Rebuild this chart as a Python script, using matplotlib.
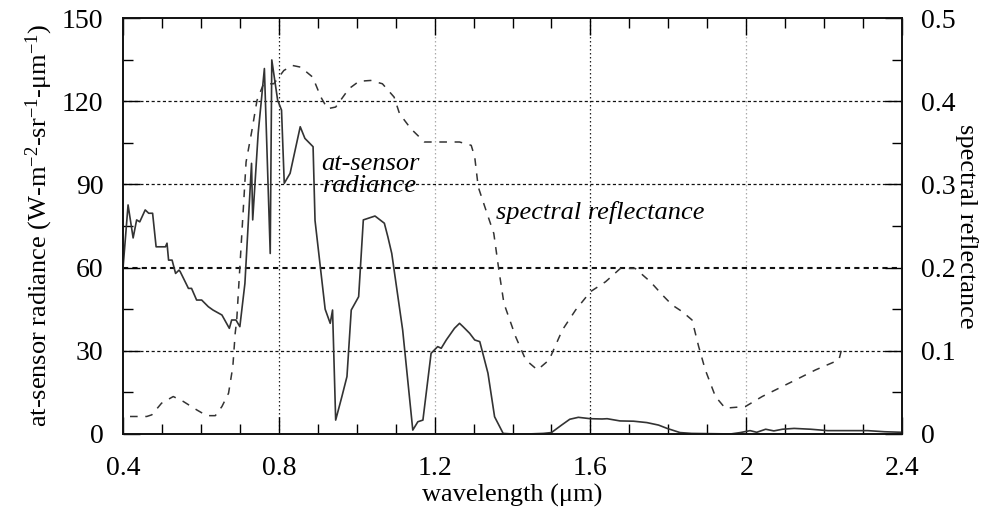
import matplotlib
matplotlib.use("Agg")
import matplotlib.pyplot as plt
from matplotlib.ticker import MultipleLocator

plt.rcParams["font.family"] = ["Liberation Serif", "DejaVu Serif"]
plt.rcParams["mathtext.fontset"] = "custom"
plt.rcParams["mathtext.rm"] = "Liberation Serif"
plt.rcParams["mathtext.it"] = "Liberation Serif:italic"

# at-sensor radiance (W m^-2 sr^-1 um^-1) versus wavelength (um)
rad_wl = [0.400, 0.413, 0.426, 0.435, 0.443, 0.457, 0.466, 0.476, 0.485,
          0.489, 0.509, 0.513, 0.517, 0.526, 0.535, 0.544, 0.547, 0.568,
          0.576, 0.589, 0.602, 0.619, 0.631, 0.654, 0.673, 0.679, 0.690,
          0.700, 0.713, 0.730, 0.733, 0.747, 0.755, 0.763, 0.778, 0.782,
          0.797, 0.807, 0.814, 0.829, 0.855, 0.867, 0.888, 0.893, 0.919,
          0.932, 0.938, 0.946, 0.962, 0.975, 0.986, 1.005, 1.017, 1.047,
          1.071, 1.080, 1.090, 1.118, 1.144, 1.157, 1.170, 1.191, 1.208,
          1.217, 1.230, 1.251, 1.264, 1.273, 1.290, 1.303, 1.316, 1.337,
          1.354, 1.376, 1.400, 1.440, 1.479, 1.500, 1.526, 1.547, 1.569,
          1.600, 1.630, 1.643, 1.676, 1.711, 1.745, 1.775, 1.797, 1.830,
          1.860, 1.960, 1.985, 2.010, 2.027, 2.050, 2.071, 2.093, 2.123,
          2.166, 2.209, 2.312, 2.355, 2.400]
rad_val = [59.7, 82.6, 70.7, 77.2, 76.5, 80.8, 79.6, 79.6, 67.5,
           67.5, 67.5, 68.8, 62.7, 62.7, 57.9, 59.1, 58.5, 52.5,
           52.5, 48.3, 48.3, 45.9, 44.7, 42.9, 38.1, 41.1, 41.1,
           38.7, 54.3, 97.6, 77.2, 108.4, 120.0, 131.8, 65.1, 134.9,
           120.4, 116.8, 90.4, 94.0, 110.8, 106.6, 103.6, 77.0, 45.0,
           39.9, 44.7, 5.0, 13.5, 20.7, 44.7, 49.5, 77.2, 78.6,
           76.0, 71.1, 65.1, 37.5, 1.4, 4.4, 5.0, 29.1, 31.5,
           30.9, 33.9, 38.1, 39.9, 38.7, 36.3, 33.9, 33.3, 21.9,
           6.2, 0.2, 0.0, 0.0, 0.2, 0.5, 3.2, 5.3, 6.0,
           5.5, 5.4, 5.5, 4.7, 4.6, 4.1, 3.2, 2.0, 0.5,
           0.2, 0.0, 0.5, 1.2, 0.6, 1.7, 1.1, 1.7, 2.0,
           1.7, 1.2, 1.2, 0.8, 0.6]

# spectral reflectance versus wavelength (um)
ref_wl = [0.418, 0.461, 0.474, 0.499, 0.529, 0.555, 0.589, 0.615, 0.637,
          0.654, 0.671, 0.682, 0.688, 0.692, 0.716, 0.731, 0.744, 0.761,
          0.787, 0.813, 0.835, 0.856, 0.887, 0.908, 0.925, 0.946, 0.980,
          1.006, 1.036, 1.066, 1.096, 1.110, 1.139, 1.174, 1.208, 1.264,
          1.294, 1.303, 1.312, 1.329, 1.352, 1.365, 1.378, 1.408, 1.434,
          1.464, 1.494, 1.528, 1.562, 1.600, 1.639, 1.677, 1.715, 1.754,
          1.787, 1.810, 1.836, 1.861, 1.878, 1.895, 1.921, 1.946, 1.998,
          2.041, 2.084, 2.127, 2.178, 2.238, 2.244]
ref_val = [0.021, 0.021, 0.023, 0.037, 0.045, 0.039, 0.029, 0.022, 0.022,
           0.033, 0.049, 0.081, 0.121, 0.137, 0.327, 0.365, 0.401, 0.421,
           0.421, 0.437, 0.443, 0.441, 0.429, 0.405, 0.391, 0.393, 0.415,
           0.424, 0.425, 0.421, 0.405, 0.385, 0.367, 0.351, 0.351, 0.351,
           0.347, 0.333, 0.297, 0.273, 0.241, 0.197, 0.157, 0.117, 0.089,
           0.077, 0.089, 0.125, 0.149, 0.171, 0.183, 0.199, 0.199, 0.183,
           0.166, 0.155, 0.147, 0.137, 0.105, 0.077, 0.045, 0.031, 0.033,
           0.045, 0.055, 0.065, 0.077, 0.089, 0.100]

grid_x = [0.8, 1.2, 1.6, 2.0]
grid_x_colors = ["#222222", "#aaaaaa", "#222222", "#aaaaaa"]
grid_y = [30, 60, 90, 120]

fig = plt.figure(figsize=(10, 5.16), dpi=100)
ax = fig.add_axes([0.123, 0.159, 0.779, 0.806])
ax2 = ax.twinx()

for x, c in zip(grid_x, grid_x_colors):
    ax.axvline(x, color=c, lw=0.9, ls=(0, (1.2, 2.0)), zorder=0)
for y in grid_y:
    lw = 1.5 if y == 60 else 0.9
    ax.axhline(y, color="#111111", lw=lw, ls=(0, (2.5, 2.0)), zorder=0)

ax.plot(rad_wl, rad_val, color="#333333", lw=1.2, zorder=3)
ax2.plot(ref_wl, ref_val, color="#333333", lw=1.1, ls=(0, (5, 5)), zorder=3)

ax.set_xlim(0.4, 2.4)
ax.set_ylim(0, 150)
ax2.set_ylim(0, 0.5)

ax.xaxis.set_major_locator(MultipleLocator(0.4))
ax.xaxis.set_minor_locator(MultipleLocator(0.1))
ax.yaxis.set_major_locator(MultipleLocator(30))
ax.yaxis.set_minor_locator(MultipleLocator(15))
ax2.yaxis.set_major_locator(MultipleLocator(0.1))
ax2.yaxis.set_minor_locator(MultipleLocator(0.05))

ax.xaxis.set_major_formatter(plt.FuncFormatter(lambda v, p: f"{v:g}"))
ax2.yaxis.set_major_formatter(plt.FuncFormatter(lambda v, p: f"{v:g}"))

TICK_FS = 20
LABEL_FS = 19
ax.tick_params(axis="x", which="both", direction="in", top=True, labelsize=TICK_FS, pad=16)
ax.tick_params(axis="y", which="both", direction="in", right=False, labelsize=TICK_FS, pad=14)
ax.tick_params(which="major", length=12, width=1.0)
ax.tick_params(which="minor", length=7, width=1.0)
ax2.tick_params(axis="y", which="both", direction="in", labelsize=TICK_FS, pad=14)
ax2.tick_params(which="major", length=12, width=1.0)
ax2.tick_params(which="minor", length=7, width=1.0)

for a in (ax, ax2):
    for s in a.spines.values():
        s.set_linewidth(1.2)
        s.set_color("#111111")

ax.set_xlabel("wavelength (μm)", fontsize=LABEL_FS, labelpad=2)
ax.set_ylabel(r"at-sensor radiance (W-m$^{-2}$-sr$^{-1}$-μm$^{-1}$)", fontsize=LABEL_FS, labelpad=5)
ax2.set_ylabel("spectral reflectance", fontsize=LABEL_FS, rotation=270, labelpad=16)

ax.text(1.034, 93.5, "at-sensor\nradiance", fontsize=LABEL_FS, style="italic",
        ha="center", va="center", linespacing=1.0)
ax.text(1.625, 79.7, "spectral reflectance", fontsize=LABEL_FS, style="italic",
        ha="center", va="center")

fig.savefig("out.png", dpi=100)
